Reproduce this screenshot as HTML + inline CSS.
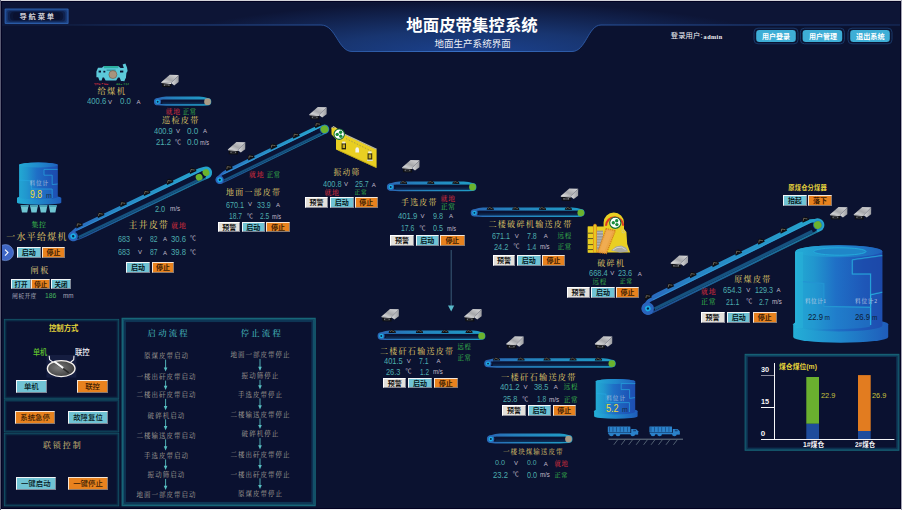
<!DOCTYPE html>
<html lang="zh-CN">
<head>
<meta charset="utf-8">
<title>地面皮带集控系统</title>
<style>
html,body{margin:0;padding:0;background:#0b1230;}
body{width:902px;height:510px;overflow:hidden;position:relative;}
#app{position:absolute;left:0;top:0;width:902px;height:510px;background:#0b1230;overflow:hidden;}
#gfx{position:absolute;left:0;top:0;width:902px;height:510px;}
.t{position:absolute;white-space:nowrap;line-height:1;transform-origin:0 50%;}
.s{font-family:"Liberation Sans","Noto Sans CJK SC",sans-serif;}
.k{font-family:"Liberation Serif","Noto Serif CJK SC",serif;}
.b{font-weight:bold;}
.m{font-weight:500;}
.clip{position:absolute;overflow:hidden;}
.btn{position:absolute;box-sizing:content-box;border:1px solid;text-align:center;white-space:nowrap;overflow:hidden;font-weight:bold;}
.btn.n{font-weight:500;}
.btn.c{background:#70c3d4;border-color:#f2f6f8 #7f8796 #7f8796 #f2f6f8;color:#06181c;}
.btn.o{background:#e8821e;border-color:#f6e6d6 #8a7a70 #8a7a70 #f6e6d6;color:#3c1c04;}
.btn.w{background:#e3e0db;border-color:#ffffff #8a8a96 #8a8a96 #ffffff;color:#101010;}
#frame-t{position:absolute;left:0;top:0;width:902px;height:1px;background:#d4d4da;}
#frame-b{position:absolute;left:0;top:509px;width:902px;height:1px;background:#f4f4f6;}
#frame-l{position:absolute;left:0;top:0;width:1px;height:510px;background:#5a5a72;}
#frame-r{position:absolute;left:901px;top:0;width:1px;height:510px;background:#a4a4b4;}
#frame-in{position:absolute;left:1px;top:1px;width:898px;height:506px;border:1px solid #020222;}
</style>
</head>
<body>
<div id="app">
<svg id="gfx" width="902" height="510" viewBox="0 0 902 510">
<defs>
<radialGradient id="hdrGlow" gradientUnits="userSpaceOnUse" cx="472" cy="54" r="1" gradientTransform="translate(472 54) scale(330 52) translate(-472 -54)">
<stop offset="0" stop-color="#1b4290"/><stop offset="0.45" stop-color="#183570"/><stop offset="1" stop-color="#0d1536"/></radialGradient>
<linearGradient id="hdrSide" x1="0" y1="0" x2="0" y2="1"><stop offset="0" stop-color="#0c1333"/><stop offset="1" stop-color="#14224c"/></linearGradient>
<linearGradient id="hdrLine" gradientUnits="userSpaceOnUse" x1="0" y1="0" x2="902" y2="0">
<stop offset="0" stop-color="#101d42"/><stop offset="0.08" stop-color="#13244c"/><stop offset="0.16" stop-color="#1c3c78"/><stop offset="0.36" stop-color="#274f96"/><stop offset="0.52" stop-color="#3a72c8"/><stop offset="0.68" stop-color="#274f96"/><stop offset="0.9" stop-color="#1c3c78"/><stop offset="1" stop-color="#172f62"/></linearGradient>
<linearGradient id="pnl" x1="0" y1="0" x2="0" y2="1"><stop offset="0" stop-color="#176a7c"/><stop offset="1" stop-color="#124c60"/></linearGradient>
</defs>
<g id="header"><path d="M0 0H902V25H601C588 25 586 51.5 572 51.5H352C338 51.5 336 25 321 25H0Z" fill="url(#hdrSide)"/>
<path d="M0 0H902V25H601C588 25 586 51.5 572 51.5H352C338 51.5 336 25 321 25H0Z" fill="url(#hdrGlow)"/>
<path d="M0 25H321C336 25 338 51.5 352 51.5H572C586 51.5 588 25 601 25H902" fill="none" stroke="url(#hdrLine)" stroke-width="1"/></g>
<g id="navbtn"><rect x="4.6" y="8.4" width="64" height="15.6" rx="1" fill="#2a5aa4"/><rect x="5.6" y="9.4" width="62" height="13.6" rx="1" fill="#1d4486"/><rect x="6.6" y="10.2" width="60" height="12" rx="2" fill="#16326a"/><rect x="8" y="11" width="57.2" height="10.4" rx="3" fill="#10224e"/><rect x="10" y="11.8" width="53.2" height="8.8" rx="4" fill="#0b1638"/><rect x="13" y="12.4" width="47.2" height="7.6" rx="3.6" fill="#0a1130"/></g>
<rect x="754" y="28.2" width="44" height="15.6" rx="4" fill="#0b1432" stroke="#1a3868" stroke-width="1"/>
<rect x="756.2" y="30" width="39.6" height="12" rx="3.2" fill="#3eaed6"/>
<rect x="800.4" y="28.2" width="44" height="15.6" rx="4" fill="#0b1432" stroke="#1a3868" stroke-width="1"/>
<rect x="802.6" y="30" width="39.6" height="12" rx="3.2" fill="#3eaed6"/>
<rect x="848" y="28.2" width="44" height="15.6" rx="4" fill="#0b1432" stroke="#1a3868" stroke-width="1"/>
<rect x="850.2" y="30" width="39.6" height="12" rx="3.2" fill="#3eaed6"/>
<rect x="4" y="319" width="115.1" height="80.1" fill="#0a1130"/><rect x="4.38" y="319.38" width="114.33" height="79.33" fill="none" stroke="#15586a" stroke-width="0.92"/><rect x="5.15" y="320.15" width="112.8" height="77.8" fill="none" stroke="#10435a" stroke-width="0.92"/><rect x="5.92" y="320.92" width="111.27" height="76.27" fill="none" stroke="#0c2c48" stroke-width="0.92"/>
<rect x="4" y="399.4" width="115.1" height="32.9" fill="#0a1130"/><rect x="4.38" y="399.78" width="114.33" height="32.13" fill="none" stroke="#15586a" stroke-width="0.92"/><rect x="5.15" y="400.55" width="112.8" height="30.6" fill="none" stroke="#10435a" stroke-width="0.92"/><rect x="5.92" y="401.32" width="111.27" height="29.07" fill="none" stroke="#0c2c48" stroke-width="0.92"/>
<rect x="4" y="432.9" width="115.1" height="73.3" fill="#0a1130"/><rect x="4.38" y="433.28" width="114.33" height="72.53" fill="none" stroke="#15586a" stroke-width="0.92"/><rect x="5.15" y="434.05" width="112.8" height="71" fill="none" stroke="#10435a" stroke-width="0.92"/><rect x="5.92" y="434.82" width="111.27" height="69.47" fill="none" stroke="#0c2c48" stroke-width="0.92"/>
<rect x="121.6" y="317.8" width="194.1" height="188.4" fill="#0a1130"/><rect x="122.3" y="318.5" width="192.7" height="187" fill="none" stroke="#176678" stroke-width="1.55"/><rect x="123.7" y="319.9" width="189.9" height="184.2" fill="none" stroke="#13506a" stroke-width="1.55"/><rect x="125.1" y="321.3" width="187.1" height="181.4" fill="none" stroke="#0e3454" stroke-width="1.55"/>
<rect x="744.7" y="353.9" width="154.6" height="96.8" fill="#0a1130"/><rect x="745.2" y="354.4" width="153.6" height="95.8" fill="none" stroke="#176678" stroke-width="1.15"/><rect x="746.2" y="355.4" width="151.6" height="93.8" fill="none" stroke="#13506a" stroke-width="1.15"/><rect x="747.2" y="356.4" width="149.6" height="91.8" fill="none" stroke="#0e3454" stroke-width="1.15"/>
<path d="M165.6 359.6V368.6" stroke="#58c0c2" stroke-width="0.9" fill="none"/><path d="M163.79999999999998 367.40000000000003L165.6 371.6L167.4 367.40000000000003Z" fill="#58c0c2"/>
<path d="M165.6 380.6V386.90000000000003" stroke="#58c0c2" stroke-width="0.9" fill="none"/><path d="M163.79999999999998 385.70000000000005L165.6 389.90000000000003L167.4 385.70000000000005Z" fill="#58c0c2"/>
<path d="M165.6 398.90000000000003V407.3" stroke="#58c0c2" stroke-width="0.9" fill="none"/><path d="M163.79999999999998 406.1L165.6 410.3L167.4 406.1Z" fill="#58c0c2"/>
<path d="M165.6 419.3V427.3" stroke="#58c0c2" stroke-width="0.9" fill="none"/><path d="M163.79999999999998 426.1L165.6 430.3L167.4 426.1Z" fill="#58c0c2"/>
<path d="M165.6 439.3V447.40000000000003" stroke="#58c0c2" stroke-width="0.9" fill="none"/><path d="M163.79999999999998 446.20000000000005L165.6 450.40000000000003L167.4 446.20000000000005Z" fill="#58c0c2"/>
<path d="M165.6 459.40000000000003V467.0" stroke="#58c0c2" stroke-width="0.9" fill="none"/><path d="M163.79999999999998 465.8L165.6 470.0L167.4 465.8Z" fill="#58c0c2"/>
<path d="M165.6 479.0V486.90000000000003" stroke="#58c0c2" stroke-width="0.9" fill="none"/><path d="M163.79999999999998 485.70000000000005L165.6 489.90000000000003L167.4 485.70000000000005Z" fill="#58c0c2"/>
<path d="M260 358.90000000000003V367.90000000000003" stroke="#58c0c2" stroke-width="0.9" fill="none"/><path d="M258.2 366.70000000000005L260 370.90000000000003L261.8 366.70000000000005Z" fill="#58c0c2"/>
<path d="M260 379.90000000000003V386.40000000000003" stroke="#58c0c2" stroke-width="0.9" fill="none"/><path d="M258.2 385.20000000000005L260 389.40000000000003L261.8 385.20000000000005Z" fill="#58c0c2"/>
<path d="M260 398.40000000000003V406.5" stroke="#58c0c2" stroke-width="0.9" fill="none"/><path d="M258.2 405.3L260 409.5L261.8 405.3Z" fill="#58c0c2"/>
<path d="M260 418.5V426.1" stroke="#58c0c2" stroke-width="0.9" fill="none"/><path d="M258.2 424.90000000000003L260 429.1L261.8 424.90000000000003Z" fill="#58c0c2"/>
<path d="M260 438.1V446.40000000000003" stroke="#58c0c2" stroke-width="0.9" fill="none"/><path d="M258.2 445.20000000000005L260 449.40000000000003L261.8 445.20000000000005Z" fill="#58c0c2"/>
<path d="M260 458.40000000000003V466.3" stroke="#58c0c2" stroke-width="0.9" fill="none"/><path d="M258.2 465.1L260 469.3L261.8 465.1Z" fill="#58c0c2"/>
<path d="M260 478.3V486.1" stroke="#58c0c2" stroke-width="0.9" fill="none"/><path d="M258.2 484.90000000000003L260 489.1L261.8 484.90000000000003Z" fill="#58c0c2"/>
<g id="knob"><rect x="46.4" y="355" width="30" height="22.6" fill="#151d40"/><path d="M49.2 355.8L49.6 359.8L53.6 362.6" stroke="#f4f4f4" stroke-width="1.1" fill="none"/><path d="M74 355.8L73.7 359.8L70.6 362.2" stroke="#f4f4f4" stroke-width="1.1" fill="none"/><radialGradient id="knobg" cx="0.4" cy="0.45" r="0.75"><stop offset="0" stop-color="#7c7c7c"/><stop offset="1" stop-color="#2e2e2e"/></radialGradient><ellipse cx="61.2" cy="368.6" rx="13.8" ry="8" fill="url(#knobg)" stroke="#f6f2ee" stroke-width="1.4"/><path d="M56.5 363.6L68.2 372.4" stroke="#2a2a2a" stroke-width="1.6" stroke-linecap="round"/><path d="M54.6 361.8L62.6 367.6" stroke="#fafafa" stroke-width="2" stroke-linecap="round"/></g>
<g id="navarrow"><circle cx="5.5" cy="252.6" r="8" fill="#3f66c4"/><circle cx="5.5" cy="252.6" r="8" fill="none" stroke="#7fa0e0" stroke-width="0.6"/><path d="M5 249.6L8 252.6L5 255.6" stroke="#ffffff" stroke-width="1.1" fill="none"/></g>
<path d="M451.2 250V306" stroke="#3f6480" stroke-width="0.9" fill="none"/><path d="M448 305.6H454.2L451.2 311.6Z" fill="#58b8c8"/>
<g transform="translate(157.67 101.7) rotate(0)">
<linearGradient id="bg1" gradientUnits="userSpaceOnUse" x1="0" y1="0" x2="49.87" y2="0"><stop offset="0" stop-color="#2a68b6"/><stop offset="0.3" stop-color="#2580bc"/><stop offset="1" stop-color="#209cc6"/></linearGradient>
<path d="M0 -3.67Q4.23 -5.3 8.46 -5.3L41.41 -5.3Q46.49 -5.3 49.87 -3.76A3.76 3.76 0 0 1 49.87 3.76Q45.64 4.1 41.41 4.1L8.46 4.1Q4.23 4.1 0 3.67A3.67 3.67 0 0 1 0 -3.67Z" fill="url(#bg1)"/>
<rect x="1" y="-2" width="48.27" height="4.4" rx="2.2" ry="2.2" fill="#0a1334"/>
<linearGradient id="bg2" x1="0" y1="0" x2="0" y2="1"><stop offset="0.35" stop-color="#0a1334"/><stop offset="1" stop-color="#0d3058"/></linearGradient>
<rect x="4.7" y="-2" width="42.35" height="4.4" fill="url(#bg2)"/>
<circle cx="0" cy="0" r="3.27" fill="#2a68b6"/>
<circle cx="0" cy="0" r="2.16" fill="#1aaee4"/>
<circle cx="0" cy="0" r="0.94" fill="#07254e"/>
<circle cx="49.87" cy="0" r="3.38" fill="#a99b86"/>
</g>
<g transform="translate(73.2 236.2) rotate(-25.59)">
<linearGradient id="bg3" gradientUnits="userSpaceOnUse" x1="0" y1="0" x2="147.24" y2="0"><stop offset="0" stop-color="#2a64bc"/><stop offset="0.3" stop-color="#2784c4"/><stop offset="1" stop-color="#25a4cc"/></linearGradient>
<path d="M0 -5.07Q5.85 -7.2 11.7 -7.2L135.54 -7.2Q142.56 -7.2 147.24 -6.17A6.17 6.17 0 0 1 147.24 6.17Q141.39 5.8 135.54 5.8L11.7 5.8Q5.85 5.8 0 5.07A5.07 5.07 0 0 1 0 -5.07Z" fill="url(#bg3)"/>
<rect x="1" y="-3.17" width="145.64" height="7.67" rx="3.83" ry="3.83" fill="#0a1334"/>
<rect x="4.55" y="2.03" width="136.84" height="2.47" fill="#16527f"/>
<rect x="1.3" y="4.5" width="143.34" height="1.3" fill="#0b1230" opacity="0.3"/>
<rect x="6.5" y="-4.17" width="136.84" height="0.8" fill="#3aa6e0" opacity="0.6"/>
<circle cx="0" cy="0" r="4.67" fill="#2a64bc"/>
<circle cx="0" cy="0" r="2.8" fill="#1aaee4"/>
<circle cx="0" cy="0" r="1.2" fill="#07254e"/>
<circle cx="139.04" cy="1.2" r="3.4" fill="#6bb32d"/>
<circle cx="147.24" cy="0" r="3.4" fill="#6bb32d"/>
<path d="M6.38 -5.62L6.98 -8.31L9.18 -10.59L11.58 -9.97L13.38 -7.9L13.58 -5.52Z" fill="#0d0e12"/>
<path d="M7.78 -7.28L9.28 -9.35L10.78 -8.21L12.28 -7.18" stroke="#6f675c" stroke-width="0.8" fill="none"/>
<path d="M30.22 -5.62L30.82 -8.31L33.02 -10.59L35.42 -9.97L37.22 -7.9L37.42 -5.52Z" fill="#0d0e12"/>
<path d="M31.62 -7.28L33.12 -9.35L34.62 -8.21L36.12 -7.18" stroke="#6f675c" stroke-width="0.8" fill="none"/>
<path d="M55.16 -5.62L55.76 -8.31L57.96 -10.59L60.36 -9.97L62.16 -7.9L62.36 -5.52Z" fill="#0d0e12"/>
<path d="M56.56 -7.28L58.06 -9.35L59.56 -8.21L61.06 -7.18" stroke="#6f675c" stroke-width="0.8" fill="none"/>
<path d="M81.22 -5.62L81.82 -8.31L84.02 -10.59L86.42 -9.97L88.22 -7.9L88.42 -5.52Z" fill="#0d0e12"/>
<path d="M82.62 -7.28L84.12 -9.35L85.62 -8.21L87.12 -7.18" stroke="#6f675c" stroke-width="0.8" fill="none"/>
<path d="M106.72 -5.62L107.32 -8.31L109.52 -10.59L111.92 -9.97L113.72 -7.9L113.92 -5.52Z" fill="#0d0e12"/>
<path d="M108.12 -7.28L109.62 -9.35L111.12 -8.21L112.62 -7.18" stroke="#6f675c" stroke-width="0.8" fill="none"/>
<path d="M132.22 -5.62L132.82 -8.31L135.02 -10.59L137.42 -9.97L139.22 -7.9L139.42 -5.52Z" fill="#0d0e12"/>
<path d="M133.62 -7.28L135.12 -9.35L136.62 -8.21L138.12 -7.18" stroke="#6f675c" stroke-width="0.8" fill="none"/>
</g>
<g transform="translate(219.8 179.8) rotate(-25.79)">
<linearGradient id="bg4" gradientUnits="userSpaceOnUse" x1="0" y1="0" x2="116.29" y2="0"><stop offset="0" stop-color="#2a64bc"/><stop offset="0.3" stop-color="#2784c4"/><stop offset="1" stop-color="#25a4cc"/></linearGradient>
<path d="M0 -4.29Q4.95 -6.5 9.9 -6.5L106.39 -6.5Q112.33 -6.5 116.29 -4.4A4.4 4.4 0 0 1 116.29 4.4Q111.34 4.5 106.39 4.5L9.9 4.5Q4.95 4.5 0 4.29A4.29 4.29 0 0 1 0 -4.29Z" fill="url(#bg4)"/>
<rect x="1" y="-3.09" width="114.69" height="6.49" rx="3.25" ry="3.25" fill="#0a1334"/>
<rect x="3.85" y="1.31" width="107.49" height="2.09" fill="#16527f"/>
<rect x="1.1" y="3.4" width="112.99" height="1.1" fill="#0b1230" opacity="0.3"/>
<rect x="5.5" y="-4.09" width="107.49" height="0.8" fill="#3aa6e0" opacity="0.6"/>
<circle cx="0" cy="0" r="3.89" fill="#2a64bc"/>
<circle cx="0" cy="0" r="2.53" fill="#1aaee4"/>
<circle cx="0" cy="0" r="1.1" fill="#07254e"/>
<circle cx="116.29" cy="0" r="4.8" fill="#1c6fc8" opacity="0.75"/>
<circle cx="116.29" cy="0" r="3.9" fill="#6bb32d"/>
<path d="M9.62 -4.92L10.22 -7.61L12.42 -9.89L14.82 -9.27L16.62 -7.2L16.82 -4.82Z" fill="#0d0e12"/>
<path d="M11.02 -6.58L12.52 -8.65L14.02 -7.51L15.52 -6.48" stroke="#6f675c" stroke-width="0.8" fill="none"/>
<path d="M34.05 -4.92L34.65 -7.61L36.85 -9.89L39.25 -9.27L41.05 -7.2L41.25 -4.82Z" fill="#0d0e12"/>
<path d="M35.45 -6.58L36.95 -8.65L38.45 -7.51L39.95 -6.48" stroke="#6f675c" stroke-width="0.8" fill="none"/>
<path d="M59.04 -4.92L59.64 -7.61L61.84 -9.89L64.24 -9.27L66.04 -7.2L66.24 -4.82Z" fill="#0d0e12"/>
<path d="M60.44 -6.58L61.94 -8.65L63.44 -7.51L64.94 -6.48" stroke="#6f675c" stroke-width="0.8" fill="none"/>
<path d="M84.03 -4.92L84.63 -7.61L86.83 -9.89L89.23 -9.27L91.03 -7.2L91.23 -4.82Z" fill="#0d0e12"/>
<path d="M85.43 -6.58L86.93 -8.65L88.43 -7.51L89.93 -6.48" stroke="#6f675c" stroke-width="0.8" fill="none"/>
<path d="M108.47 -4.92L109.07 -7.61L111.27 -9.89L113.67 -9.27L115.47 -7.2L115.67 -4.82Z" fill="#0d0e12"/>
<path d="M109.87 -6.58L111.37 -8.65L112.87 -7.51L114.37 -6.48" stroke="#6f675c" stroke-width="0.8" fill="none"/>
</g>
<g transform="translate(390.72 187) rotate(0)">
<linearGradient id="bg5" gradientUnits="userSpaceOnUse" x1="0" y1="0" x2="81.76" y2="0"><stop offset="0" stop-color="#2a68b6"/><stop offset="0.3" stop-color="#2580bc"/><stop offset="1" stop-color="#209cc6"/></linearGradient>
<path d="M0 -3.82Q4.41 -5.5 8.82 -5.5L72.94 -5.5Q78.23 -5.5 81.76 -3.92A3.92 3.92 0 0 1 81.76 3.92Q77.35 4.3 72.94 4.3L8.82 4.3Q4.41 4.3 0 3.82A3.82 3.82 0 0 1 0 -3.82Z" fill="url(#bg5)"/>
<rect x="1" y="-2.2" width="80.16" height="4.8" rx="2.4" ry="2.4" fill="#0a1334"/>
<linearGradient id="bg6" x1="0" y1="0" x2="0" y2="1"><stop offset="0.35" stop-color="#0a1334"/><stop offset="1" stop-color="#0d3058"/></linearGradient>
<rect x="4.9" y="-2.2" width="73.92" height="4.8" fill="url(#bg6)"/>
<circle cx="0" cy="0" r="3.42" fill="#2a68b6"/>
<circle cx="0" cy="0" r="2.25" fill="#1aaee4"/>
<circle cx="0" cy="0" r="0.98" fill="#07254e"/>
<circle cx="81.76" cy="0" r="3.4" fill="#6bb32d"/>
<path d="M9.18 -3.17L9.78 -4.86L11.98 -6.28L14.38 -5.9L16.18 -4.6L16.38 -3.11Z" fill="#0d0e12"/>
<path d="M10.58 -4.21L12.08 -5.51L13.58 -4.79L15.08 -4.15" stroke="#6f675c" stroke-width="0.8" fill="none"/>
<path d="M36.38 -3.17L36.98 -4.86L39.18 -6.28L41.58 -5.9L43.38 -4.6L43.58 -3.11Z" fill="#0d0e12"/>
<path d="M37.78 -4.21L39.28 -5.51L40.78 -4.79L42.28 -4.15" stroke="#6f675c" stroke-width="0.8" fill="none"/>
<path d="M61.48 -3.17L62.08 -4.86L64.28 -6.28L66.68 -5.9L68.48 -4.6L68.68 -3.11Z" fill="#0d0e12"/>
<path d="M62.88 -4.21L64.38 -5.51L65.88 -4.79L67.38 -4.15" stroke="#6f675c" stroke-width="0.8" fill="none"/>
</g>
<g transform="translate(474.4 212.85) rotate(0)">
<linearGradient id="bg7" gradientUnits="userSpaceOnUse" x1="0" y1="0" x2="106.4" y2="0"><stop offset="0" stop-color="#2a68b6"/><stop offset="0.3" stop-color="#2580bc"/><stop offset="1" stop-color="#209cc6"/></linearGradient>
<path d="M0 -3.71Q4.28 -5.35 8.55 -5.35L97.85 -5.35Q102.98 -5.35 106.4 -3.8A3.8 3.8 0 0 1 106.4 3.8Q102.12 4.15 97.85 4.15L8.55 4.15Q4.28 4.15 0 3.71A3.71 3.71 0 0 1 0 -3.71Z" fill="url(#bg7)"/>
<rect x="1" y="-2.05" width="104.8" height="4.5" rx="2.25" ry="2.25" fill="#0a1334"/>
<linearGradient id="bg8" x1="0" y1="0" x2="0" y2="1"><stop offset="0.35" stop-color="#0a1334"/><stop offset="1" stop-color="#0d3058"/></linearGradient>
<rect x="4.75" y="-2.05" width="98.8" height="4.5" fill="url(#bg8)"/>
<circle cx="0" cy="0" r="3.31" fill="#2a68b6"/>
<circle cx="0" cy="0" r="2.19" fill="#1aaee4"/>
<circle cx="0" cy="0" r="0.95" fill="#07254e"/>
<circle cx="106.4" cy="0" r="3.4" fill="#6bb32d"/>
<path d="M12.2 -3.02L12.8 -4.71L15 -6.13L17.4 -5.75L19.2 -4.45L19.4 -2.96Z" fill="#0d0e12"/>
<path d="M13.6 -4.06L15.1 -5.36L16.6 -4.64L18.1 -4" stroke="#6f675c" stroke-width="0.8" fill="none"/>
<path d="M37.7 -3.02L38.3 -4.71L40.5 -6.13L42.9 -5.75L44.7 -4.45L44.9 -2.96Z" fill="#0d0e12"/>
<path d="M39.1 -4.06L40.6 -5.36L42.1 -4.64L43.6 -4" stroke="#6f675c" stroke-width="0.8" fill="none"/>
<path d="M64.4 -3.02L65 -4.71L67.2 -6.13L69.59 -5.75L71.4 -4.45L71.59 -2.96Z" fill="#0d0e12"/>
<path d="M65.8 -4.06L67.3 -5.36L68.8 -4.64L70.3 -4" stroke="#6f675c" stroke-width="0.8" fill="none"/>
<path d="M90.29 -3.02L90.89 -4.71L93.09 -6.13L95.49 -5.75L97.29 -4.45L97.49 -2.96Z" fill="#0d0e12"/>
<path d="M91.69 -4.06L93.19 -5.36L94.69 -4.64L96.19 -4" stroke="#6f675c" stroke-width="0.8" fill="none"/>
</g>
<g transform="translate(647.9 308.5) rotate(-26.19)">
<linearGradient id="bg9" gradientUnits="userSpaceOnUse" x1="0" y1="0" x2="189.22" y2="0"><stop offset="0" stop-color="#2a64bc"/><stop offset="0.3" stop-color="#2784c4"/><stop offset="1" stop-color="#25a4cc"/></linearGradient>
<path d="M0 -6.47Q7.47 -10.1 14.94 -10.1L174.28 -10.1Q183.24 -10.1 189.22 -6.64A6.64 6.64 0 0 1 189.22 6.64Q181.75 6.5 174.28 6.5L14.94 6.5Q7.47 6.5 0 6.47A6.47 6.47 0 0 1 0 -6.47Z" fill="url(#bg9)"/>
<rect x="1" y="-4.95" width="187.62" height="9.79" rx="4.9" ry="4.9" fill="#0a1334"/>
<rect x="5.81" y="1.69" width="175.94" height="3.15" fill="#16527f"/>
<rect x="1.66" y="4.84" width="184.24" height="1.66" fill="#0b1230" opacity="0.3"/>
<rect x="8.3" y="-5.95" width="175.94" height="0.8" fill="#3aa6e0" opacity="0.6"/>
<circle cx="0" cy="0" r="6.07" fill="#2a64bc"/>
<circle cx="0" cy="0" r="2.8" fill="#1aaee4"/>
<circle cx="0" cy="0" r="1.2" fill="#07254e"/>
<circle cx="189.22" cy="0" r="4.8" fill="#1c6fc8" opacity="0.75"/>
<circle cx="189.22" cy="0" r="3.9" fill="#6bb32d"/>
<path d="M1.41 -8.52L2.01 -11.21L4.21 -13.49L6.61 -12.87L8.41 -10.8L8.61 -8.42Z" fill="#0d0e12"/>
<path d="M2.81 -10.18L4.31 -12.25L5.81 -11.11L7.31 -10.08" stroke="#6f675c" stroke-width="0.8" fill="none"/>
<path d="M26.27 -8.52L26.87 -11.21L29.07 -13.49L31.47 -12.87L33.27 -10.8L33.47 -8.42Z" fill="#0d0e12"/>
<path d="M27.67 -10.18L29.17 -12.25L30.67 -11.11L32.17 -10.08" stroke="#6f675c" stroke-width="0.8" fill="none"/>
<path d="M51.34 -8.52L51.94 -11.21L54.14 -13.49L56.54 -12.87L58.34 -10.8L58.54 -8.42Z" fill="#0d0e12"/>
<path d="M52.74 -10.18L54.24 -12.25L55.74 -11.11L57.24 -10.08" stroke="#6f675c" stroke-width="0.8" fill="none"/>
<path d="M76.41 -8.52L77.01 -11.21L79.21 -13.49L81.61 -12.87L83.41 -10.8L83.61 -8.42Z" fill="#0d0e12"/>
<path d="M77.81 -10.18L79.31 -12.25L80.81 -11.11L82.31 -10.08" stroke="#6f675c" stroke-width="0.8" fill="none"/>
<path d="M102.04 -8.52L102.64 -11.21L104.84 -13.49L107.24 -12.87L109.04 -10.8L109.24 -8.42Z" fill="#0d0e12"/>
<path d="M103.44 -10.18L104.94 -12.25L106.44 -11.11L107.94 -10.08" stroke="#6f675c" stroke-width="0.8" fill="none"/>
<path d="M127.23 -8.52L127.83 -11.21L130.03 -13.49L132.43 -12.87L134.23 -10.8L134.43 -8.42Z" fill="#0d0e12"/>
<path d="M128.63 -10.18L130.13 -12.25L131.63 -11.11L133.13 -10.08" stroke="#6f675c" stroke-width="0.8" fill="none"/>
<path d="M152.19 -8.52L152.79 -11.21L154.99 -13.49L157.39 -12.87L159.19 -10.8L159.39 -8.42Z" fill="#0d0e12"/>
<path d="M153.59 -10.18L155.09 -12.25L156.59 -11.11L158.09 -10.08" stroke="#6f675c" stroke-width="0.8" fill="none"/>
<path d="M176.71 -8.52L177.31 -11.21L179.51 -13.49L181.91 -12.87L183.71 -10.8L183.91 -8.42Z" fill="#0d0e12"/>
<path d="M178.11 -10.18L179.61 -12.25L181.11 -11.11L182.61 -10.08" stroke="#6f675c" stroke-width="0.8" fill="none"/>
</g>
<g transform="translate(381.3 335.95) rotate(0)">
<linearGradient id="bg10" gradientUnits="userSpaceOnUse" x1="0" y1="0" x2="100.3" y2="0"><stop offset="0" stop-color="#2a68b6"/><stop offset="0.3" stop-color="#2580bc"/><stop offset="1" stop-color="#209cc6"/></linearGradient>
<path d="M0 -3.71Q4.28 -5.35 8.55 -5.35L91.75 -5.35Q96.88 -5.35 100.3 -3.8A3.8 3.8 0 0 1 100.3 3.8Q96.02 4.15 91.75 4.15L8.55 4.15Q4.28 4.15 0 3.71A3.71 3.71 0 0 1 0 -3.71Z" fill="url(#bg10)"/>
<rect x="1" y="-2.05" width="98.7" height="4.5" rx="2.25" ry="2.25" fill="#0a1334"/>
<linearGradient id="bg11" x1="0" y1="0" x2="0" y2="1"><stop offset="0.35" stop-color="#0a1334"/><stop offset="1" stop-color="#0d3058"/></linearGradient>
<rect x="4.75" y="-2.05" width="92.7" height="4.5" fill="url(#bg11)"/>
<circle cx="0" cy="0" r="3.31" fill="#2a68b6"/>
<circle cx="0" cy="0" r="2.19" fill="#1aaee4"/>
<circle cx="0" cy="0" r="0.95" fill="#07254e"/>
<circle cx="100.3" cy="0" r="3.4" fill="#6bb32d"/>
<path d="M7.3 -3.02L7.9 -4.71L10.1 -6.13L12.5 -5.75L14.3 -4.45L14.5 -2.96Z" fill="#0d0e12"/>
<path d="M8.7 -4.06L10.2 -5.36L11.7 -4.64L13.2 -4" stroke="#6f675c" stroke-width="0.8" fill="none"/>
<path d="M34.5 -3.02L35.1 -4.71L37.3 -6.13L39.7 -5.75L41.5 -4.45L41.7 -2.96Z" fill="#0d0e12"/>
<path d="M35.9 -4.06L37.4 -5.36L38.9 -4.64L40.4 -4" stroke="#6f675c" stroke-width="0.8" fill="none"/>
<path d="M60.1 -3.02L60.7 -4.71L62.9 -6.13L65.3 -5.75L67.1 -4.45L67.3 -2.96Z" fill="#0d0e12"/>
<path d="M61.5 -4.06L63 -5.36L64.5 -4.64L66 -4" stroke="#6f675c" stroke-width="0.8" fill="none"/>
<path d="M84.1 -3.02L84.7 -4.71L86.9 -6.13L89.3 -5.75L91.1 -4.45L91.3 -2.96Z" fill="#0d0e12"/>
<path d="M85.5 -4.06L87 -5.36L88.5 -4.64L90 -4" stroke="#6f675c" stroke-width="0.8" fill="none"/>
</g>
<g transform="translate(488.04 363.6) rotate(0)">
<linearGradient id="bg12" gradientUnits="userSpaceOnUse" x1="0" y1="0" x2="123.82" y2="0"><stop offset="0" stop-color="#2a68b6"/><stop offset="0.3" stop-color="#2580bc"/><stop offset="1" stop-color="#209cc6"/></linearGradient>
<path d="M0 -3.74Q4.32 -5.4 8.64 -5.4L115.18 -5.4Q120.36 -5.4 123.82 -3.84A3.84 3.84 0 0 1 123.82 3.84Q119.5 4.2 115.18 4.2L8.64 4.2Q4.32 4.2 0 3.74A3.74 3.74 0 0 1 0 -3.74Z" fill="url(#bg12)"/>
<rect x="1" y="-2.1" width="122.22" height="4.6" rx="2.3" ry="2.3" fill="#0a1334"/>
<linearGradient id="bg13" x1="0" y1="0" x2="0" y2="1"><stop offset="0.35" stop-color="#0a1334"/><stop offset="1" stop-color="#0d3058"/></linearGradient>
<rect x="4.8" y="-2.1" width="116.14" height="4.6" fill="url(#bg13)"/>
<circle cx="0" cy="0" r="3.34" fill="#2a68b6"/>
<circle cx="0" cy="0" r="2.21" fill="#1aaee4"/>
<circle cx="0" cy="0" r="0.96" fill="#07254e"/>
<circle cx="123.82" cy="0" r="3.4" fill="#6bb32d"/>
<path d="M4.86 -3.07L5.46 -4.76L7.66 -6.18L10.06 -5.8L11.86 -4.5L12.06 -3.01Z" fill="#0d0e12"/>
<path d="M6.26 -4.11L7.76 -5.41L9.26 -4.69L10.76 -4.05" stroke="#6f675c" stroke-width="0.8" fill="none"/>
<path d="M29.36 -3.07L29.96 -4.76L32.16 -6.18L34.56 -5.8L36.36 -4.5L36.56 -3.01Z" fill="#0d0e12"/>
<path d="M30.76 -4.11L32.26 -5.41L33.76 -4.69L35.26 -4.05" stroke="#6f675c" stroke-width="0.8" fill="none"/>
<path d="M55.36 -3.07L55.96 -4.76L58.16 -6.18L60.56 -5.8L62.36 -4.5L62.56 -3.01Z" fill="#0d0e12"/>
<path d="M56.76 -4.11L58.26 -5.41L59.76 -4.69L61.26 -4.05" stroke="#6f675c" stroke-width="0.8" fill="none"/>
<path d="M81.36 -3.07L81.96 -4.76L84.16 -6.18L86.56 -5.8L88.36 -4.5L88.56 -3.01Z" fill="#0d0e12"/>
<path d="M82.76 -4.11L84.26 -5.41L85.76 -4.69L87.26 -4.05" stroke="#6f675c" stroke-width="0.8" fill="none"/>
<path d="M106.76 -3.07L107.36 -4.76L109.56 -6.18L111.96 -5.8L113.76 -4.5L113.96 -3.01Z" fill="#0d0e12"/>
<path d="M108.16 -4.11L109.66 -5.41L111.16 -4.69L112.66 -4.05" stroke="#6f675c" stroke-width="0.8" fill="none"/>
</g>
<g transform="translate(490.8 439.1) rotate(0)">
<linearGradient id="bg14" gradientUnits="userSpaceOnUse" x1="0" y1="0" x2="77.7" y2="0"><stop offset="0" stop-color="#2a68b6"/><stop offset="0.3" stop-color="#2580bc"/><stop offset="1" stop-color="#209cc6"/></linearGradient>
<path d="M0 -3.9Q4.5 -5.6 9 -5.6L68.7 -5.6Q74.1 -5.6 77.7 -4A4 4 0 0 1 77.7 4Q73.2 4.4 68.7 4.4L9 4.4Q4.5 4.4 0 3.9A3.9 3.9 0 0 1 0 -3.9Z" fill="url(#bg14)"/>
<rect x="1" y="-2.3" width="76.1" height="5" rx="2.5" ry="2.5" fill="#0a1334"/>
<linearGradient id="bg15" x1="0" y1="0" x2="0" y2="1"><stop offset="0.35" stop-color="#0a1334"/><stop offset="1" stop-color="#0d3058"/></linearGradient>
<rect x="5" y="-2.3" width="69.7" height="5" fill="url(#bg15)"/>
<circle cx="0" cy="0" r="3.5" fill="#2a68b6"/>
<circle cx="0" cy="0" r="2.3" fill="#1aaee4"/>
<circle cx="0" cy="0" r="1" fill="#07254e"/>
<circle cx="77.7" cy="0" r="3.4" fill="#a99b86"/>
</g>
<g transform="translate(161 74.8)">
<linearGradient id="cg16" x1="0" y1="1" x2="1" y2="0"><stop offset="0" stop-color="#f0f0f0"/><stop offset="0.45" stop-color="#a6a7aa"/><stop offset="1" stop-color="#dcdcde"/></linearGradient>
<linearGradient id="cg17" x1="0" y1="0" x2="1" y2="0"><stop offset="0" stop-color="#dadbdd"/><stop offset="1" stop-color="#9c9da1"/></linearGradient>
<path d="M0.8 7.4L10.2 8.2L10.4 12.5L1.4 12.2Z" fill="#0e0f13"/>
<path d="M2.8 9.5H8.6V11.2H2.8Z" fill="#73757c"/>
<path d="M4 9.9H7.4V10.9H4Z" fill="#16171b"/>
<path d="M8.8 0L17.7 0.3L10.2 8.3L0.2 7.5Z" fill="url(#cg16)"/>
<path d="M17.7 0.3L17.6 7.2L13.2 10.6L10.2 8.3Z" fill="url(#cg17)"/>
<path d="M0.2 7.5L10.2 8.3L10.2 9.1L0.5 8.3Z" fill="#f8f8f8"/>
</g>
<g transform="translate(227.6 142)">
<linearGradient id="cg18" x1="0" y1="1" x2="1" y2="0"><stop offset="0" stop-color="#f0f0f0"/><stop offset="0.45" stop-color="#a6a7aa"/><stop offset="1" stop-color="#dcdcde"/></linearGradient>
<linearGradient id="cg19" x1="0" y1="0" x2="1" y2="0"><stop offset="0" stop-color="#dadbdd"/><stop offset="1" stop-color="#9c9da1"/></linearGradient>
<path d="M0.8 7.4L10.2 8.2L10.4 12.5L1.4 12.2Z" fill="#0e0f13"/>
<path d="M2.8 9.5H8.6V11.2H2.8Z" fill="#73757c"/>
<path d="M4 9.9H7.4V10.9H4Z" fill="#16171b"/>
<path d="M8.8 0L17.7 0.3L10.2 8.3L0.2 7.5Z" fill="url(#cg18)"/>
<path d="M17.7 0.3L17.6 7.2L13.2 10.6L10.2 8.3Z" fill="url(#cg19)"/>
<path d="M0.2 7.5L10.2 8.3L10.2 9.1L0.5 8.3Z" fill="#f8f8f8"/>
</g>
<g transform="translate(309 107)">
<linearGradient id="cg20" x1="0" y1="1" x2="1" y2="0"><stop offset="0" stop-color="#f0f0f0"/><stop offset="0.45" stop-color="#a6a7aa"/><stop offset="1" stop-color="#dcdcde"/></linearGradient>
<linearGradient id="cg21" x1="0" y1="0" x2="1" y2="0"><stop offset="0" stop-color="#dadbdd"/><stop offset="1" stop-color="#9c9da1"/></linearGradient>
<path d="M0.8 7.4L10.2 8.2L10.4 12.5L1.4 12.2Z" fill="#0e0f13"/>
<path d="M2.8 9.5H8.6V11.2H2.8Z" fill="#73757c"/>
<path d="M4 9.9H7.4V10.9H4Z" fill="#16171b"/>
<path d="M8.8 0L17.7 0.3L10.2 8.3L0.2 7.5Z" fill="url(#cg20)"/>
<path d="M17.7 0.3L17.6 7.2L13.2 10.6L10.2 8.3Z" fill="url(#cg21)"/>
<path d="M0.2 7.5L10.2 8.3L10.2 9.1L0.5 8.3Z" fill="#f8f8f8"/>
</g>
<g transform="translate(401.8 160)">
<linearGradient id="cg22" x1="0" y1="1" x2="1" y2="0"><stop offset="0" stop-color="#f0f0f0"/><stop offset="0.45" stop-color="#a6a7aa"/><stop offset="1" stop-color="#dcdcde"/></linearGradient>
<linearGradient id="cg23" x1="0" y1="0" x2="1" y2="0"><stop offset="0" stop-color="#dadbdd"/><stop offset="1" stop-color="#9c9da1"/></linearGradient>
<path d="M0.8 7.4L10.2 8.2L10.4 12.5L1.4 12.2Z" fill="#0e0f13"/>
<path d="M2.8 9.5H8.6V11.2H2.8Z" fill="#73757c"/>
<path d="M4 9.9H7.4V10.9H4Z" fill="#16171b"/>
<path d="M8.8 0L17.7 0.3L10.2 8.3L0.2 7.5Z" fill="url(#cg22)"/>
<path d="M17.7 0.3L17.6 7.2L13.2 10.6L10.2 8.3Z" fill="url(#cg23)"/>
<path d="M0.2 7.5L10.2 8.3L10.2 9.1L0.5 8.3Z" fill="#f8f8f8"/>
</g>
<g transform="translate(560.5 188.5)">
<linearGradient id="cg24" x1="0" y1="1" x2="1" y2="0"><stop offset="0" stop-color="#f0f0f0"/><stop offset="0.45" stop-color="#a6a7aa"/><stop offset="1" stop-color="#dcdcde"/></linearGradient>
<linearGradient id="cg25" x1="0" y1="0" x2="1" y2="0"><stop offset="0" stop-color="#dadbdd"/><stop offset="1" stop-color="#9c9da1"/></linearGradient>
<path d="M0.8 7.4L10.2 8.2L10.4 12.5L1.4 12.2Z" fill="#0e0f13"/>
<path d="M2.8 9.5H8.6V11.2H2.8Z" fill="#73757c"/>
<path d="M4 9.9H7.4V10.9H4Z" fill="#16171b"/>
<path d="M8.8 0L17.7 0.3L10.2 8.3L0.2 7.5Z" fill="url(#cg24)"/>
<path d="M17.7 0.3L17.6 7.2L13.2 10.6L10.2 8.3Z" fill="url(#cg25)"/>
<path d="M0.2 7.5L10.2 8.3L10.2 9.1L0.5 8.3Z" fill="#f8f8f8"/>
</g>
<g transform="translate(464 309)">
<linearGradient id="cg26" x1="0" y1="1" x2="1" y2="0"><stop offset="0" stop-color="#f0f0f0"/><stop offset="0.45" stop-color="#a6a7aa"/><stop offset="1" stop-color="#dcdcde"/></linearGradient>
<linearGradient id="cg27" x1="0" y1="0" x2="1" y2="0"><stop offset="0" stop-color="#dadbdd"/><stop offset="1" stop-color="#9c9da1"/></linearGradient>
<path d="M0.8 7.4L10.2 8.2L10.4 12.5L1.4 12.2Z" fill="#0e0f13"/>
<path d="M2.8 9.5H8.6V11.2H2.8Z" fill="#73757c"/>
<path d="M4 9.9H7.4V10.9H4Z" fill="#16171b"/>
<path d="M8.8 0L17.7 0.3L10.2 8.3L0.2 7.5Z" fill="url(#cg26)"/>
<path d="M17.7 0.3L17.6 7.2L13.2 10.6L10.2 8.3Z" fill="url(#cg27)"/>
<path d="M0.2 7.5L10.2 8.3L10.2 9.1L0.5 8.3Z" fill="#f8f8f8"/>
</g>
<g transform="translate(381.2 309)">
<linearGradient id="cg28" x1="0" y1="1" x2="1" y2="0"><stop offset="0" stop-color="#f0f0f0"/><stop offset="0.45" stop-color="#a6a7aa"/><stop offset="1" stop-color="#dcdcde"/></linearGradient>
<linearGradient id="cg29" x1="0" y1="0" x2="1" y2="0"><stop offset="0" stop-color="#dadbdd"/><stop offset="1" stop-color="#9c9da1"/></linearGradient>
<path d="M0.8 7.4L10.2 8.2L10.4 12.5L1.4 12.2Z" fill="#0e0f13"/>
<path d="M2.8 9.5H8.6V11.2H2.8Z" fill="#73757c"/>
<path d="M4 9.9H7.4V10.9H4Z" fill="#16171b"/>
<path d="M8.8 0L17.7 0.3L10.2 8.3L0.2 7.5Z" fill="url(#cg28)"/>
<path d="M17.7 0.3L17.6 7.2L13.2 10.6L10.2 8.3Z" fill="url(#cg29)"/>
<path d="M0.2 7.5L10.2 8.3L10.2 9.1L0.5 8.3Z" fill="#f8f8f8"/>
</g>
<g transform="translate(506 336.2)">
<linearGradient id="cg30" x1="0" y1="1" x2="1" y2="0"><stop offset="0" stop-color="#f0f0f0"/><stop offset="0.45" stop-color="#a6a7aa"/><stop offset="1" stop-color="#dcdcde"/></linearGradient>
<linearGradient id="cg31" x1="0" y1="0" x2="1" y2="0"><stop offset="0" stop-color="#dadbdd"/><stop offset="1" stop-color="#9c9da1"/></linearGradient>
<path d="M0.8 7.4L10.2 8.2L10.4 12.5L1.4 12.2Z" fill="#0e0f13"/>
<path d="M2.8 9.5H8.6V11.2H2.8Z" fill="#73757c"/>
<path d="M4 9.9H7.4V10.9H4Z" fill="#16171b"/>
<path d="M8.8 0L17.7 0.3L10.2 8.3L0.2 7.5Z" fill="url(#cg30)"/>
<path d="M17.7 0.3L17.6 7.2L13.2 10.6L10.2 8.3Z" fill="url(#cg31)"/>
<path d="M0.2 7.5L10.2 8.3L10.2 9.1L0.5 8.3Z" fill="#f8f8f8"/>
</g>
<g transform="translate(594.6 336.2)">
<linearGradient id="cg32" x1="0" y1="1" x2="1" y2="0"><stop offset="0" stop-color="#f0f0f0"/><stop offset="0.45" stop-color="#a6a7aa"/><stop offset="1" stop-color="#dcdcde"/></linearGradient>
<linearGradient id="cg33" x1="0" y1="0" x2="1" y2="0"><stop offset="0" stop-color="#dadbdd"/><stop offset="1" stop-color="#9c9da1"/></linearGradient>
<path d="M0.8 7.4L10.2 8.2L10.4 12.5L1.4 12.2Z" fill="#0e0f13"/>
<path d="M2.8 9.5H8.6V11.2H2.8Z" fill="#73757c"/>
<path d="M4 9.9H7.4V10.9H4Z" fill="#16171b"/>
<path d="M8.8 0L17.7 0.3L10.2 8.3L0.2 7.5Z" fill="url(#cg32)"/>
<path d="M17.7 0.3L17.6 7.2L13.2 10.6L10.2 8.3Z" fill="url(#cg33)"/>
<path d="M0.2 7.5L10.2 8.3L10.2 9.1L0.5 8.3Z" fill="#f8f8f8"/>
</g>
<g transform="translate(829.7 207)">
<linearGradient id="cg34" x1="0" y1="1" x2="1" y2="0"><stop offset="0" stop-color="#f0f0f0"/><stop offset="0.45" stop-color="#a6a7aa"/><stop offset="1" stop-color="#dcdcde"/></linearGradient>
<linearGradient id="cg35" x1="0" y1="0" x2="1" y2="0"><stop offset="0" stop-color="#dadbdd"/><stop offset="1" stop-color="#9c9da1"/></linearGradient>
<path d="M0.8 7.4L10.2 8.2L10.4 12.5L1.4 12.2Z" fill="#0e0f13"/>
<path d="M2.8 9.5H8.6V11.2H2.8Z" fill="#73757c"/>
<path d="M4 9.9H7.4V10.9H4Z" fill="#16171b"/>
<path d="M8.8 0L17.7 0.3L10.2 8.3L0.2 7.5Z" fill="url(#cg34)"/>
<path d="M17.7 0.3L17.6 7.2L13.2 10.6L10.2 8.3Z" fill="url(#cg35)"/>
<path d="M0.2 7.5L10.2 8.3L10.2 9.1L0.5 8.3Z" fill="#f8f8f8"/>
</g>
<g transform="translate(853.5 207)">
<linearGradient id="cg36" x1="0" y1="1" x2="1" y2="0"><stop offset="0" stop-color="#f0f0f0"/><stop offset="0.45" stop-color="#a6a7aa"/><stop offset="1" stop-color="#dcdcde"/></linearGradient>
<linearGradient id="cg37" x1="0" y1="0" x2="1" y2="0"><stop offset="0" stop-color="#dadbdd"/><stop offset="1" stop-color="#9c9da1"/></linearGradient>
<path d="M0.8 7.4L10.2 8.2L10.4 12.5L1.4 12.2Z" fill="#0e0f13"/>
<path d="M2.8 9.5H8.6V11.2H2.8Z" fill="#73757c"/>
<path d="M4 9.9H7.4V10.9H4Z" fill="#16171b"/>
<path d="M8.8 0L17.7 0.3L10.2 8.3L0.2 7.5Z" fill="url(#cg36)"/>
<path d="M17.7 0.3L17.6 7.2L13.2 10.6L10.2 8.3Z" fill="url(#cg37)"/>
<path d="M0.2 7.5L10.2 8.3L10.2 9.1L0.5 8.3Z" fill="#f8f8f8"/>
</g>
<g transform="translate(670.4 255.4)">
<linearGradient id="cg38" x1="0" y1="1" x2="1" y2="0"><stop offset="0" stop-color="#f0f0f0"/><stop offset="0.45" stop-color="#a6a7aa"/><stop offset="1" stop-color="#dcdcde"/></linearGradient>
<linearGradient id="cg39" x1="0" y1="0" x2="1" y2="0"><stop offset="0" stop-color="#dadbdd"/><stop offset="1" stop-color="#9c9da1"/></linearGradient>
<path d="M0.8 7.4L10.2 8.2L10.4 12.5L1.4 12.2Z" fill="#0e0f13"/>
<path d="M2.8 9.5H8.6V11.2H2.8Z" fill="#73757c"/>
<path d="M4 9.9H7.4V10.9H4Z" fill="#16171b"/>
<path d="M8.8 0L17.7 0.3L10.2 8.3L0.2 7.5Z" fill="url(#cg38)"/>
<path d="M17.7 0.3L17.6 7.2L13.2 10.6L10.2 8.3Z" fill="url(#cg39)"/>
<path d="M0.2 7.5L10.2 8.3L10.2 9.1L0.5 8.3Z" fill="#f8f8f8"/>
</g>
<g id="feeder" transform="translate(96 63)">
<path d="M7.5 3.2H22.5L24.5 5H30V14.2L27.8 18H25L23.6 14.6H22L20.2 17.6H9.6L8 14.6H6.6L5.6 17.6H3.4L2.2 14.2H0.4V8.4L2 4.8H6Z" fill="#5cc9da"/>
<path d="M26.6 1.6L29.4 0.4L31 4.6L31.6 8L30.4 10L30 14L28.2 18.4L26.4 17.6L28 11.6V5.4Z" fill="#5cc9da"/>
<rect x="8" y="3" width="14.2" height="2.2" fill="#2cae9f"/>
<rect x="10.6" y="6.6" width="9" height="1.2" fill="#2a8f98"/>
<rect x="2.6" y="7.6" width="2.4" height="1.9" fill="#0b1230"/><rect x="7.4" y="7.8" width="1.9" height="1.7" fill="#0b1230"/><rect x="24" y="7.6" width="3.3" height="1.9" fill="#0b1230"/>
<circle cx="16.9" cy="11.6" r="4" fill="#a8947e" stroke="#6a4a3a" stroke-width="0.5"/>
</g>
<linearGradient id="kg40" gradientUnits="userSpaceOnUse" x1="17" y1="0" x2="61.3" y2="0"><stop offset="0" stop-color="#23aed4"/><stop offset="0.22" stop-color="#2196ce"/><stop offset="0.45" stop-color="#1f6fc6"/><stop offset="0.75" stop-color="#1e57b8"/><stop offset="1" stop-color="#1e4cae"/></linearGradient>
<linearGradient id="kg41" gradientUnits="userSpaceOnUse" x1="17" y1="0" x2="61.3" y2="0"><stop offset="0" stop-color="#24aed6"/><stop offset="0.5" stop-color="#2088cc"/><stop offset="1" stop-color="#1f5cba"/></linearGradient>
<path d="M17 198V202.4A22.15 2.4 0 0 0 61.3 202.4V198A22.15 2.4 0 0 0 17 198Z" fill="url(#kg41)"/>
<path d="M19.1 165V196.8A19.35 2.6 0 0 0 57.8 196.8V165A19.35 2.6 0 0 0 19.1 165Z" fill="url(#kg40)"/>
<ellipse cx="38.45" cy="165" rx="19.35" ry="2.6" fill="url(#kg41)"/>
<path d="M19.2 180.2L31.4 180.8V189H52.2V199.2A19.3 2.6 0 0 1 19.2 197Z" fill="#2396d2" opacity="0.22"/>
<path d="M44 169.4H57.8V184L52.2 184.6V175.2H44Z" fill="#1b46a6" opacity="0.35"/>
<g fill="none" stroke="#27a7df" stroke-width="0.7"><path d="M44 169.4H57.6"/><path d="M44 169.4V175.2H52.2V184.6L57.6 184"/><path d="M19.5 180.2L31.4 180.8V189H52.2V198"/></g>
<path d="M20.6 205.2H28.6L27.2 212.6H22Z" fill="#6fc5d2"/><path d="M20.6 205.2H28.6L28.2 207H21Z" fill="#4aa4b8"/>
<path d="M30 205.2H38L36.6 212.6H31.4Z" fill="#6fc5d2"/><path d="M30 205.2H38L37.6 207H30.4Z" fill="#4aa4b8"/>
<path d="M39.4 205.2H47.4L46 212.6H40.8Z" fill="#6fc5d2"/><path d="M39.4 205.2H47.4L47 207H39.8Z" fill="#4aa4b8"/>
<path d="M48.8 205.2H56.8L55.4 212.6H50.2Z" fill="#6fc5d2"/><path d="M48.8 205.2H56.8L56.4 207H49.2Z" fill="#4aa4b8"/>
<g id="screen">
<path d="M331.4 127.8L335.6 127.2L345 134.6L376.6 149.4V168L336 149.6V139L331.6 134.6Z" fill="#e9cf22"/>
<path d="M344.6 134.2L376.6 149.2" stroke="#b9b9a6" stroke-width="1.2" fill="none"/>
<path d="M331.4 128L334 126.4L335.8 128.6" stroke="#c9c9b6" stroke-width="0.9" fill="none"/>
<path d="M346 138.6L372 151.4" stroke="#8c8a60" stroke-width="0.7" stroke-dasharray="1.4 1.6" fill="none"/>
<path d="M338 150L376 167.4" stroke="#b89f14" stroke-width="0.8" fill="none"/>
<rect x="341.6" y="143.2" width="4.4" height="6.2" fill="#2a2410"/><rect x="342.2" y="141.6" width="3.2" height="1.8" fill="#f0f0e0"/><rect x="342.6" y="144.4" width="2.4" height="3.6" fill="#c8b020"/>
<rect x="367.6" y="153.2" width="4.6" height="6.6" fill="#2a2410"/><rect x="368.2" y="151.4" width="3.4" height="1.9" fill="#f0f0e0"/><rect x="368.6" y="154.4" width="2.6" height="4" fill="#c8b020"/><rect x="367" y="159.6" width="5.8" height="1.4" fill="#d8d8c8"/>
<path d="M355.4 152.6V149.4Q355.4 147.2 357.2 147.2Q359 147.2 359 149.4V152.6Z" fill="#f4f4ec"/>
<circle cx="339.2" cy="134.2" r="5.2" fill="#ffffff" stroke="#176e32" stroke-width="1.1"/>
<circle cx="337.2" cy="134.4" r="1.7" fill="#188c3c"/><circle cx="340.6" cy="132.3" r="1.7" fill="#188c3c"/><circle cx="340.8" cy="136.2" r="1.7" fill="#188c3c"/>
</g>
<g id="crusher">
<path d="M603.6 226.6V222.6A10.2 10.2 0 0 1 624 222.6V229L626.4 232L627.2 244L630.2 252.6H587.8V226.6Z" fill="#e9cf22"/>
<path d="M606 225.8A8.6 8.6 0 0 1 623.2 225.8" stroke="#de3a22" stroke-width="2.1" fill="none"/>
<rect x="587.8" y="226.6" width="5.4" height="26" fill="#e9cf22"/>
<path d="M587.8 233.2H593.2M587.8 238.6H593.2M587.8 244.6H593.2M587.8 249.6H593.2" stroke="#3a3420" stroke-width="0.8"/>
<rect x="596.6" y="230.6" width="6.4" height="19" fill="#9a9a98"/>
<path d="M596.6 232.6H603M596.6 235.4H603M596.6 238.2H603M596.6 241H603M596.6 243.8H603M596.6 246.6H603" stroke="#c8c8c8" stroke-width="0.7"/>
<path d="M593.6 252.6V225.6A1.4 1.4 0 0 1 596.4 225.6V252.6" stroke="#e08a1c" stroke-width="0.9" fill="#e9cf22"/>
<path d="M606 228.6L615.4 230.6L606.4 253.6L597.6 252.4Z" fill="#eca646" stroke="#d27a14" stroke-width="1.1" stroke-dasharray="1.2 0.9"/>
<path d="M606.8 230.6L612.4 231.8L604.6 250.8L600.2 250.2Z" fill="#f0ac52"/>
<path d="M611 250.4L616 246.6L621 245.4L626 247.6L628.4 251.4L620 252.6Z" fill="#a8a8a0"/>
<path d="M613 250L617 247.6L621.6 247.2L625.6 249.6" stroke="#e6e6dc" stroke-width="0.7" fill="none"/>
<circle cx="623.4" cy="231.4" r="1.5" fill="#e9cf22" stroke="#c8c8b0" stroke-width="0.6"/>
<circle cx="615.3" cy="222.8" r="5.6" fill="#ffffff" stroke="#176e32" stroke-width="1.1"/>
<circle cx="613.3" cy="222.8" r="1.7" fill="#188c3c"/><circle cx="616.7" cy="220.7" r="1.7" fill="#188c3c"/><circle cx="616.9" cy="224.6" r="1.7" fill="#188c3c"/>
</g>
<linearGradient id="kg43" gradientUnits="userSpaceOnUse" x1="793.2" y1="0" x2="888.2" y2="0"><stop offset="0" stop-color="#23aed4"/><stop offset="0.22" stop-color="#2196ce"/><stop offset="0.45" stop-color="#1f6fc6"/><stop offset="0.75" stop-color="#1e57b8"/><stop offset="1" stop-color="#1e4cae"/></linearGradient>
<linearGradient id="kg44" gradientUnits="userSpaceOnUse" x1="793.2" y1="0" x2="888.2" y2="0"><stop offset="0" stop-color="#24aed6"/><stop offset="0.5" stop-color="#2088cc"/><stop offset="1" stop-color="#1f5cba"/></linearGradient>
<path d="M793.2 324.2V337A47.5 5.8 0 0 0 888.2 337V324.2A47.5 5.8 0 0 0 793.2 324.2Z" fill="url(#kg44)"/>
<path d="M795.4 251.2V325.4A43.5 6 0 0 0 882.4 325.4V251.2A43.5 6 0 0 0 795.4 251.2Z" fill="url(#kg43)"/>
<ellipse cx="838.9" cy="251.2" rx="43.5" ry="6" fill="url(#kg44)"/>
<ellipse cx="839.9" cy="251.5" rx="26.1" ry="3.72" fill="#1f86c8" stroke="#25b3de" stroke-width="0.8"/>
<g fill="none" stroke="#28b2e2" stroke-width="1.3"><path d="M852.4 259.8L882.2 255.6"/><path d="M852.4 259.8V273.8H870.6V294.6L882.2 292.2"/><path d="M870.6 294.6V325"/><path d="M802.6 281.6L823.8 283.6V306.4L870.4 307.4" stroke="#2494d2"/><path d="M795.8 252V325" stroke="#2cb4dc" stroke-width="1.4"/></g>
<path d="M796 281.4L823.4 283.8V306.6H870.4V326.4A43.5 6 0 0 1 796 326.4Z" fill="#25a0d8" opacity="0.3"/>
<path d="M852.4 259.8L882.2 255.6V292.2L870.6 294.6V273.8H852.4Z" fill="#1a3f9e" opacity="0.4"/>
<rect x="795.6" y="252" width="7.4" height="76" fill="#27b4da" opacity="0.5"/>
<linearGradient id="kg46" gradientUnits="userSpaceOnUse" x1="594.1" y1="0" x2="637.6" y2="0"><stop offset="0" stop-color="#23aed4"/><stop offset="0.22" stop-color="#2196ce"/><stop offset="0.45" stop-color="#1f6fc6"/><stop offset="0.75" stop-color="#1e57b8"/><stop offset="1" stop-color="#1e4cae"/></linearGradient>
<linearGradient id="kg47" gradientUnits="userSpaceOnUse" x1="594.1" y1="0" x2="637.6" y2="0"><stop offset="0" stop-color="#24aed6"/><stop offset="0.5" stop-color="#2088cc"/><stop offset="1" stop-color="#1f5cba"/></linearGradient>
<path d="M594.1 411.2V416.2A21.75 2.6 0 0 0 637.6 416.2V411.2A21.75 2.6 0 0 0 594.1 411.2Z" fill="url(#kg47)"/>
<path d="M595.7 381.5V411.8A19.75 2.6 0 0 0 635.2 411.8V381.5A19.75 2.6 0 0 0 595.7 381.5Z" fill="url(#kg46)"/>
<ellipse cx="615.45" cy="381.5" rx="19.75" ry="2.6" fill="url(#kg47)"/>
<g fill="none" stroke="#27a7df" stroke-width="0.7"><path d="M621.2 383.6H635V382.8"/><path d="M621.2 383.6V389.6H629.6V398.4L635 397.6"/><path d="M596.2 393.4L606 394.2V402.6H629.4V412"/></g>
<g transform="translate(607.8 426.4)" fill="#2b82ca"><rect x="0" y="0" width="22.6" height="6" rx="0.4"/><rect x="1.2" y="0.7" width="0.7" height="4.6" fill="#15467e"/><rect x="4.8" y="0.7" width="0.7" height="4.6" fill="#15467e"/><rect x="8.4" y="0.7" width="0.7" height="4.6" fill="#15467e"/><rect x="12" y="0.7" width="0.7" height="4.6" fill="#15467e"/><rect x="15.6" y="0.7" width="0.7" height="4.6" fill="#15467e"/><rect x="19.2" y="0.7" width="0.7" height="4.6" fill="#15467e"/><path d="M23.4 2.6H28.2L30.4 4.8V8H23.4Z"/><rect x="25.4" y="3.3" width="2.8" height="1.6" fill="#15467e"/><rect x="0.4" y="6.4" width="29.8" height="1.5"/><ellipse cx="3.6" cy="8.2" rx="2.3" ry="1.7"/><ellipse cx="10.2" cy="8.2" rx="2.3" ry="1.7"/><ellipse cx="25" cy="8.2" rx="2.3" ry="1.7"/></g>
<g transform="translate(649.4 426.4)" fill="#2b82ca"><rect x="0" y="0" width="22.6" height="6" rx="0.4"/><rect x="1.2" y="0.7" width="0.7" height="4.6" fill="#15467e"/><rect x="4.8" y="0.7" width="0.7" height="4.6" fill="#15467e"/><rect x="8.4" y="0.7" width="0.7" height="4.6" fill="#15467e"/><rect x="12" y="0.7" width="0.7" height="4.6" fill="#15467e"/><rect x="15.6" y="0.7" width="0.7" height="4.6" fill="#15467e"/><rect x="19.2" y="0.7" width="0.7" height="4.6" fill="#15467e"/><path d="M23.4 2.6H28.2L30.4 4.8V8H23.4Z"/><rect x="25.4" y="3.3" width="2.8" height="1.6" fill="#15467e"/><rect x="0.4" y="6.4" width="29.8" height="1.5"/><ellipse cx="3.6" cy="8.2" rx="2.3" ry="1.7"/><ellipse cx="10.2" cy="8.2" rx="2.3" ry="1.7"/><ellipse cx="25" cy="8.2" rx="2.3" ry="1.7"/></g>
<path d="M608.5 439.2H683" stroke="#8a9aa2" stroke-width="0.8"/>
<path d="M617.6 439.8L613.8 444.8M625.05 439.8L621.25 444.8M632.5 439.8L628.7 444.8M639.95 439.8L636.15 444.8M647.4 439.8L643.6 444.8M654.85 439.8L651.05 444.8M662.3 439.8L658.5 444.8M669.75 439.8L665.95 444.8M677.2 439.8L673.4 444.8" stroke="#6f7f8c" stroke-width="0.7"/>
<g id="chart"><rect x="774" y="363" width="1" height="77" fill="#f6f6f8"/><rect x="761" y="439" width="133.4" height="1" fill="#f6f6f8"/><rect x="761" y="375" width="13" height="1" fill="#8a8a9c"/><rect x="761" y="407" width="13" height="1" fill="#f6f6f8"/><rect x="806.3" y="377" width="12.7" height="46.8" fill="#6ab02f"/><rect x="806.3" y="423.8" width="12.7" height="15.2" fill="#1f4c9c"/><rect x="858" y="375.1" width="12.7" height="55.9" fill="#e27c20"/><rect x="858" y="431" width="12.7" height="8" fill="#1f4c9c"/></g>
</svg>
<div class="t s b" style="left:406.3px;top:16.7px;font-size:16.4px;color:#ffffff;letter-spacing:0.04px;">地面皮带集控系统</div>
<div class="t s" style="left:434.5px;top:38.85px;font-size:9.5px;color:#eef0f8;letter-spacing:0.03px;">地面生产系统界面</div>
<div class="t s b" style="left:19.5px;top:13.25px;font-size:7.3px;color:#cdcdd6;letter-spacing:1.77px;">导航菜单</div>
<div class="t s" style="left:670.8px;top:32.35px;font-size:7.3px;color:#f4f4f8;letter-spacing:0.1px;">登录用户:</div>
<div class="t k b" style="left:703.6px;top:34px;font-size:6.2px;color:#f0f0f4;letter-spacing:0.44px;">admin</div>
<div class="t s b" style="left:761.5px;top:32.8px;font-size:7.2px;color:#ffffff;transform:scaleX(0.973);">用户登录</div>
<div class="t s b" style="left:808.5px;top:32.8px;font-size:7.2px;color:#ffffff;transform:scaleX(0.973);">用户管理</div>
<div class="t s b" style="left:856.2px;top:32.8px;font-size:7.2px;color:#ffffff;transform:scaleX(0.994);">退出系统</div>
<div class="t k m" style="left:97.4px;top:87.96px;font-size:8.28px;color:#d2bd63;letter-spacing:1.39px;">给煤机</div>
<div class="t s" style="left:87px;top:96.2px;font-size:9.8px;color:#4cacae;transform:scaleX(0.791);">400.6</div>
<div class="t s" style="left:108px;top:98.9px;font-size:6px;color:#c2bccc;">V</div>
<div class="t s" style="left:120px;top:96.2px;font-size:9.8px;color:#4cacae;transform:scaleX(0.807);">0.0</div>
<div class="t s" style="left:136.5px;top:98.9px;font-size:6px;color:#c2bccc;">A</div>
<div class="t k m" style="left:165.7px;top:108.91px;font-size:6.77px;color:#cc2c3c;letter-spacing:0.77px;">就地</div>
<div class="t k m" style="left:182.7px;top:109.15px;font-size:6.3px;color:#36b14a;letter-spacing:0.71px;">正常</div>
<div class="t k m" style="left:162px;top:116.64px;font-size:8.12px;color:#d2bd63;letter-spacing:1.32px;">巡检皮带</div>
<div class="t s" style="left:153.7px;top:126px;font-size:9.8px;color:#4cacae;transform:scaleX(0.766);">400.9</div>
<div class="t s" style="left:176px;top:127.8px;font-size:6px;color:#c2bccc;">V</div>
<div class="t s" style="left:187px;top:126px;font-size:9.8px;color:#4cacae;transform:scaleX(0.837);">0.0</div>
<div class="t s" style="left:203px;top:127.8px;font-size:6px;color:#c2bccc;">A</div>
<div class="t s" style="left:155.7px;top:137.3px;font-size:9.8px;color:#4cacae;transform:scaleX(0.791);">21.2</div>
<div class="t s" style="left:175px;top:138.8px;font-size:6px;color:#c2bccc;">℃</div>
<div class="t s" style="left:187px;top:137.3px;font-size:9.8px;color:#4cacae;transform:scaleX(0.837);">0.0</div>
<div class="t s" style="left:200px;top:139.65px;font-size:6.5px;color:#c2bccc;transform:scaleX(0.858);">m/s</div>
<div class="t s" style="left:155px;top:203.9px;font-size:9.8px;color:#4cacae;transform:scaleX(0.749);">2.0</div>
<div class="t s" style="left:170px;top:206.25px;font-size:6.5px;color:#c2bccc;transform:scaleX(0.954);">m/s</div>
<div class="t k m" style="left:128.6px;top:221.43px;font-size:8.74px;color:#d2bd63;letter-spacing:1.42px;">主井皮带</div>
<div class="t k m" style="left:171.3px;top:223.16px;font-size:6.87px;color:#cc2c3c;letter-spacing:0.78px;">就地</div>
<div class="t s" style="left:118px;top:234px;font-size:9.8px;color:#4cacae;transform:scaleX(0.734);">683</div>
<div class="t s" style="left:138px;top:235.8px;font-size:6px;color:#c2bccc;">V</div>
<div class="t s" style="left:150px;top:234px;font-size:9.8px;color:#4cacae;transform:scaleX(0.688);">82</div>
<div class="t s" style="left:163px;top:236.2px;font-size:6px;color:#c2bccc;">A</div>
<div class="t s" style="left:171.3px;top:234px;font-size:9.8px;color:#4cacae;transform:scaleX(0.786);">30.6</div>
<div class="t s" style="left:190px;top:235.4px;font-size:6px;color:#c2bccc;">℃</div>
<div class="t s" style="left:118px;top:247.3px;font-size:9.8px;color:#4cacae;transform:scaleX(0.734);">683</div>
<div class="t s" style="left:138px;top:249.1px;font-size:6px;color:#c2bccc;">V</div>
<div class="t s" style="left:150px;top:247.3px;font-size:9.8px;color:#4cacae;transform:scaleX(0.688);">87</div>
<div class="t s" style="left:163px;top:249.5px;font-size:6px;color:#c2bccc;">A</div>
<div class="t s" style="left:171.3px;top:247.3px;font-size:9.8px;color:#4cacae;transform:scaleX(0.786);">39.8</div>
<div class="t s" style="left:190px;top:248.7px;font-size:6px;color:#c2bccc;">℃</div>
<div class="t k" style="left:29.5px;top:180.5px;font-size:5.6px;color:#b9c6dc;letter-spacing:0.85px;">料位计</div>
<div class="t s" style="left:30px;top:189.6px;font-size:10.4px;color:#f0dc3c;transform:scaleX(0.844);">9.8</div>
<div class="t s" style="left:46px;top:192.3px;font-size:7px;color:#1a2c4a;">m</div>
<div class="t k m" style="left:31.4px;top:222.44px;font-size:6.92px;color:#36b14a;letter-spacing:0.77px;">集控</div>
<div class="t k m" style="left:6.3px;top:233.46px;font-size:8.88px;color:#d2bd63;letter-spacing:1.39px;">一水平给煤机</div>
<div class="t k m" style="left:30.6px;top:266.57px;font-size:8.06px;color:#cdbb78;letter-spacing:1.51px;">闸板</div>
<div class="t k" style="left:12px;top:293.8px;font-size:5.8px;color:#b8b8c4;letter-spacing:0.4px;">闸板开度</div>
<div class="t s" style="left:44.5px;top:292.25px;font-size:7.5px;color:#45b35e;transform:scaleX(0.903);">186</div>
<div class="t s" style="left:62.8px;top:293.15px;font-size:6.5px;color:#a8a8b8;transform:scaleX(0.968);">mm</div>
<div class="t k m" style="left:249.1px;top:172.14px;font-size:6.92px;color:#cc2c3c;letter-spacing:0.77px;">就地</div>
<div class="t k m" style="left:266.7px;top:172.45px;font-size:6.3px;color:#36b14a;letter-spacing:0.71px;">正常</div>
<div class="t k m" style="left:226px;top:189.22px;font-size:7.96px;color:#d2bd63;letter-spacing:1.25px;">地面一部皮带</div>
<div class="t s" style="left:225.5px;top:199.6px;font-size:9.8px;color:#4cacae;transform:scaleX(0.738);">670.1</div>
<div class="t s" style="left:248px;top:201.4px;font-size:6px;color:#c2bccc;">V</div>
<div class="t s" style="left:257.4px;top:199.6px;font-size:9.8px;color:#4cacae;transform:scaleX(0.723);">33.9</div>
<div class="t s" style="left:276px;top:201.8px;font-size:6px;color:#c2bccc;">A</div>
<div class="t s" style="left:228.5px;top:211.4px;font-size:9.8px;color:#4cacae;transform:scaleX(0.687);">18.7</div>
<div class="t s" style="left:247px;top:212.8px;font-size:6px;color:#c2bccc;">℃</div>
<div class="t s" style="left:260px;top:211.4px;font-size:9.8px;color:#4cacae;transform:scaleX(0.675);">2.5</div>
<div class="t s" style="left:272px;top:213.75px;font-size:6.5px;color:#c2bccc;transform:scaleX(0.858);">m/s</div>
<div class="t k m" style="left:333.5px;top:168.56px;font-size:7.68px;color:#d2bd63;letter-spacing:1.29px;">振动筛</div>
<div class="t s" style="left:323.4px;top:179.3px;font-size:9.8px;color:#4cacae;transform:scaleX(0.758);">400.8</div>
<div class="t s" style="left:344px;top:181.1px;font-size:6px;color:#c2bccc;">V</div>
<div class="t s" style="left:355.3px;top:179.3px;font-size:9.8px;color:#4cacae;transform:scaleX(0.723);">25.7</div>
<div class="t s" style="left:371.7px;top:181.5px;font-size:6px;color:#c2bccc;">A</div>
<div class="t k m" style="left:324.4px;top:189.64px;font-size:6.92px;color:#cc2c3c;letter-spacing:0.77px;">就地</div>
<div class="t k m" style="left:354.6px;top:190.26px;font-size:5.68px;color:#36b14a;letter-spacing:0.64px;">正常</div>
<div class="t k m" style="left:401px;top:198.55px;font-size:7.9px;color:#d2bd63;letter-spacing:1.27px;">手选皮带</div>
<div class="t k m" style="left:440.7px;top:195.52px;font-size:6.77px;color:#cc2c3c;letter-spacing:0.77px;">就地</div>
<div class="t k m" style="left:440.7px;top:204.31px;font-size:6.77px;color:#36b14a;letter-spacing:0.77px;">正常</div>
<div class="t s" style="left:397.5px;top:210.9px;font-size:9.8px;color:#4cacae;transform:scaleX(0.791);">401.9</div>
<div class="t s" style="left:420.6px;top:212.7px;font-size:6px;color:#c2bccc;">V</div>
<div class="t s" style="left:433.2px;top:210.9px;font-size:9.8px;color:#4cacae;transform:scaleX(0.734);">9.8</div>
<div class="t s" style="left:449px;top:213.1px;font-size:6px;color:#c2bccc;">A</div>
<div class="t s" style="left:401px;top:223.2px;font-size:9.8px;color:#4cacae;transform:scaleX(0.697);">17.6</div>
<div class="t s" style="left:419.4px;top:224.6px;font-size:6px;color:#c2bccc;">℃</div>
<div class="t s" style="left:433.2px;top:223.2px;font-size:9.8px;color:#4cacae;transform:scaleX(0.734);">0.5</div>
<div class="t s" style="left:447px;top:225.55px;font-size:6.5px;color:#c2bccc;transform:scaleX(0.858);">m/s</div>
<div class="t k m" style="left:488.4px;top:220.95px;font-size:8.1px;color:#d2bd63;letter-spacing:1.26px;">二楼破碎机输送皮带</div>
<div class="t s" style="left:492.2px;top:231px;font-size:9.8px;color:#4cacae;transform:scaleX(0.738);">671.1</div>
<div class="t s" style="left:514.8px;top:232.8px;font-size:6px;color:#c2bccc;">V</div>
<div class="t s" style="left:526.8px;top:231px;font-size:9.8px;color:#4cacae;transform:scaleX(0.719);">7.8</div>
<div class="t s" style="left:543.7px;top:233.2px;font-size:6px;color:#c2bccc;">A</div>
<div class="t k m" style="left:557.5px;top:233.33px;font-size:6.54px;color:#36b14a;letter-spacing:0.74px;">远程</div>
<div class="t s" style="left:494.2px;top:242px;font-size:9.8px;color:#4cacae;transform:scaleX(0.750);">24.2</div>
<div class="t s" style="left:513.5px;top:243.4px;font-size:6px;color:#c2bccc;">℃</div>
<div class="t s" style="left:527.3px;top:242px;font-size:9.8px;color:#4cacae;transform:scaleX(0.683);">1.4</div>
<div class="t s" style="left:540px;top:244.35px;font-size:6.5px;color:#c2bccc;transform:scaleX(0.916);">m/s</div>
<div class="t k m" style="left:557.5px;top:244.33px;font-size:6.54px;color:#36b14a;letter-spacing:0.74px;">正常</div>
<div class="t k m" style="left:597.2px;top:259.88px;font-size:8.04px;color:#d2bd63;letter-spacing:1.35px;">破碎机</div>
<div class="t s" style="left:588.9px;top:268.3px;font-size:9.8px;color:#4cacae;transform:scaleX(0.766);">668.4</div>
<div class="t s" style="left:610.2px;top:270.1px;font-size:6px;color:#c2bccc;">V</div>
<div class="t s" style="left:618.2px;top:268.3px;font-size:9.8px;color:#4cacae;transform:scaleX(0.739);">23.6</div>
<div class="t s" style="left:637.8px;top:270.5px;font-size:6px;color:#c2bccc;">A</div>
<div class="t k m" style="left:592.6px;top:278.73px;font-size:6.54px;color:#36b14a;letter-spacing:0.74px;">远程</div>
<div class="t k m" style="left:619.8px;top:279.04px;font-size:5.92px;color:#36b14a;letter-spacing:0.67px;">正常</div>
<div class="t k m" style="left:734.3px;top:275.9px;font-size:8.01px;color:#d2bd63;letter-spacing:1.3px;">原煤皮带</div>
<div class="t k m" style="left:701.1px;top:288.84px;font-size:6.92px;color:#cc2c3c;letter-spacing:0.77px;">就地</div>
<div class="t k m" style="left:701.1px;top:298.64px;font-size:6.92px;color:#36b14a;letter-spacing:0.77px;">正常</div>
<div class="t s" style="left:723.2px;top:284.7px;font-size:9.8px;color:#4cacae;transform:scaleX(0.758);">654.3</div>
<div class="t s" style="left:746.3px;top:286.5px;font-size:6px;color:#c2bccc;">V</div>
<div class="t s" style="left:755.1px;top:284.7px;font-size:9.8px;color:#4cacae;transform:scaleX(0.738);">129.3</div>
<div class="t s" style="left:776.5px;top:286.9px;font-size:6px;color:#c2bccc;">A</div>
<div class="t s" style="left:725.5px;top:296.5px;font-size:9.8px;color:#4cacae;transform:scaleX(0.697);">21.1</div>
<div class="t s" style="left:746.3px;top:297.9px;font-size:6px;color:#c2bccc;">℃</div>
<div class="t s" style="left:758.9px;top:296.5px;font-size:9.8px;color:#4cacae;transform:scaleX(0.697);">2.7</div>
<div class="t s" style="left:772.2px;top:298.85px;font-size:6.5px;color:#c2bccc;transform:scaleX(0.935);">m/s</div>
<div class="t s b" style="left:788.3px;top:184.55px;font-size:6.3px;color:#e6d23c;letter-spacing:0.12px;">原煤仓分煤器</div>
<div class="t k" style="left:805px;top:298.7px;font-size:5.6px;color:#c4d0e6;letter-spacing:0.47px;">料位计1</div>
<div class="t k" style="left:855px;top:298.7px;font-size:5.6px;color:#c4d0e6;letter-spacing:0.8px;">料位计2</div>
<div class="t s" style="left:807.5px;top:312.85px;font-size:8.5px;color:#0d2038;transform:scaleX(0.907);">22.9</div>
<div class="t s" style="left:824.5px;top:314.55px;font-size:6.5px;color:#0d2038;">m</div>
<div class="t s" style="left:855px;top:312.85px;font-size:8.5px;color:#0d2038;transform:scaleX(0.907);">26.9</div>
<div class="t s" style="left:872px;top:314.55px;font-size:6.5px;color:#0d2038;">m</div>
<div class="t k m" style="left:380px;top:347.58px;font-size:8.04px;color:#d2bd63;letter-spacing:1.25px;">二楼矸石输送皮带</div>
<div class="t k m" style="left:457.5px;top:344.35px;font-size:6.3px;color:#36b14a;letter-spacing:0.71px;">远程</div>
<div class="t k m" style="left:457.5px;top:354.95px;font-size:6.3px;color:#36b14a;letter-spacing:0.71px;">正常</div>
<div class="t s" style="left:383.7px;top:356.2px;font-size:9.8px;color:#4cacae;transform:scaleX(0.766);">401.5</div>
<div class="t s" style="left:406.8px;top:358px;font-size:6px;color:#c2bccc;">V</div>
<div class="t s" style="left:419.4px;top:356.2px;font-size:9.8px;color:#4cacae;transform:scaleX(0.697);">7.1</div>
<div class="t s" style="left:436.4px;top:358.4px;font-size:6px;color:#c2bccc;">A</div>
<div class="t s" style="left:386.2px;top:367px;font-size:9.8px;color:#4cacae;transform:scaleX(0.750);">26.3</div>
<div class="t s" style="left:405.6px;top:368.4px;font-size:6px;color:#c2bccc;">℃</div>
<div class="t s" style="left:419.9px;top:367px;font-size:9.8px;color:#4cacae;transform:scaleX(0.661);">1.2</div>
<div class="t s" style="left:433.2px;top:369.35px;font-size:6.5px;color:#c2bccc;transform:scaleX(0.935);">m/s</div>
<div class="t k m" style="left:501px;top:374.09px;font-size:8.22px;color:#d2bd63;letter-spacing:1.26px;">一楼矸石输送皮带</div>
<div class="t s" style="left:499.7px;top:382px;font-size:9.8px;color:#4cacae;transform:scaleX(0.799);">401.2</div>
<div class="t s" style="left:523.6px;top:383.8px;font-size:6px;color:#c2bccc;">V</div>
<div class="t s" style="left:533.6px;top:382px;font-size:9.8px;color:#4cacae;transform:scaleX(0.755);">38.5</div>
<div class="t s" style="left:553.7px;top:384.2px;font-size:6px;color:#c2bccc;">A</div>
<div class="t k m" style="left:563.8px;top:384.33px;font-size:6.54px;color:#36b14a;letter-spacing:0.74px;">远程</div>
<div class="t s" style="left:503px;top:394.3px;font-size:9.8px;color:#4cacae;transform:scaleX(0.750);">25.8</div>
<div class="t s" style="left:522.3px;top:395.7px;font-size:6px;color:#c2bccc;">℃</div>
<div class="t s" style="left:536.9px;top:394.3px;font-size:9.8px;color:#4cacae;transform:scaleX(0.683);">1.8</div>
<div class="t s" style="left:549.4px;top:396.65px;font-size:6.5px;color:#c2bccc;transform:scaleX(0.963);">m/s</div>
<div class="t k m" style="left:563.8px;top:396.63px;font-size:6.54px;color:#36b14a;letter-spacing:0.74px;">正常</div>
<div class="t k" style="left:606.2px;top:396.3px;font-size:5.6px;color:#b9c6dc;letter-spacing:1px;">料位计</div>
<div class="t s" style="left:606.2px;top:403.5px;font-size:10.4px;color:#f0dc3c;transform:scaleX(0.879);">5.2</div>
<div class="t s" style="left:622px;top:406.3px;font-size:7px;color:#16284a;">m</div>
<div class="t k m" style="left:503px;top:448.63px;font-size:6.55px;color:#c9b565;letter-spacing:1.02px;">一楼块煤输送皮带</div>
<div class="t s" style="left:494.7px;top:459.3px;font-size:8px;color:#4cacae;transform:scaleX(0.899);">0.0</div>
<div class="t s" style="left:514px;top:460.2px;font-size:6px;color:#c2bccc;">V</div>
<div class="t s" style="left:526.6px;top:459.3px;font-size:8px;color:#4cacae;transform:scaleX(0.854);">0.0</div>
<div class="t s" style="left:543.7px;top:460.6px;font-size:6px;color:#c2bccc;">A</div>
<div class="t k m" style="left:554.5px;top:460.81px;font-size:6.39px;color:#cc2c3c;letter-spacing:0.73px;">就地</div>
<div class="t s" style="left:492.9px;top:469.9px;font-size:9.8px;color:#4cacae;transform:scaleX(0.781);">23.2</div>
<div class="t s" style="left:512.8px;top:471.3px;font-size:6px;color:#c2bccc;">℃</div>
<div class="t s" style="left:526.6px;top:469.9px;font-size:9.8px;color:#4cacae;transform:scaleX(0.734);">0.0</div>
<div class="t s" style="left:540px;top:472.25px;font-size:6.5px;color:#c2bccc;transform:scaleX(0.925);">m/s</div>
<div class="t k m" style="left:554.5px;top:472.42px;font-size:6.16px;color:#36b14a;letter-spacing:0.69px;">正常</div>
<div class="t s b" style="left:48.6px;top:325.2px;font-size:7.6px;color:#e4d43a;transform:scaleX(0.968);">控制方式</div>
<div class="t s m" style="left:32.9px;top:349.2px;font-size:7.6px;color:#62c22e;transform:scaleX(0.928);">单机</div>
<div class="t s m" style="left:75px;top:349.2px;font-size:7.6px;color:#f2f2f6;transform:scaleX(0.968);">联控</div>
<div class="t k m" style="left:42.9px;top:442.1px;font-size:8px;color:#c2b072;letter-spacing:1.97px;">联锁控制</div>
<div class="t k m" style="left:147.6px;top:330px;font-size:8.4px;color:#43b2ba;letter-spacing:2.17px;">启动流程</div>
<div class="t k m" style="left:240.7px;top:330px;font-size:8.4px;color:#43b2ba;letter-spacing:2.2px;">停止流程</div>
<div class="t k" style="left:143.95px;top:352.85px;font-size:6.5px;color:#a9a39b;letter-spacing:1.02px;">原煤皮带启动</div>
<div class="t k" style="left:136.6px;top:373.85px;font-size:6.5px;color:#a9a39b;letter-spacing:0.97px;">一楼出矸皮带启动</div>
<div class="t k" style="left:136.6px;top:392.15px;font-size:6.5px;color:#a9a39b;letter-spacing:0.97px;">二楼出矸皮带启动</div>
<div class="t k" style="left:147.62px;top:412.55px;font-size:6.5px;color:#a9a39b;letter-spacing:1.06px;">破碎机启动</div>
<div class="t k" style="left:136.6px;top:432.55px;font-size:6.5px;color:#a9a39b;letter-spacing:0.97px;">二楼输送皮带启动</div>
<div class="t k" style="left:143.95px;top:452.65px;font-size:6.5px;color:#a9a39b;letter-spacing:1.02px;">手选皮带启动</div>
<div class="t k" style="left:147.62px;top:472.25px;font-size:6.5px;color:#a9a39b;letter-spacing:1.06px;">振动筛启动</div>
<div class="t k" style="left:136.6px;top:492.15px;font-size:6.5px;color:#a9a39b;letter-spacing:0.97px;">地面一部皮带启动</div>
<div class="t k" style="left:230.6px;top:352.15px;font-size:6.5px;color:#a9a39b;letter-spacing:0.97px;">地面一部皮带停止</div>
<div class="t k" style="left:241.62px;top:373.15px;font-size:6.5px;color:#a9a39b;letter-spacing:1.06px;">振动筛停止</div>
<div class="t k" style="left:237.95px;top:391.65px;font-size:6.5px;color:#a9a39b;letter-spacing:1.02px;">手选皮带停止</div>
<div class="t k" style="left:230.6px;top:411.75px;font-size:6.5px;color:#a9a39b;letter-spacing:0.97px;">二楼输送皮带停止</div>
<div class="t k" style="left:241.62px;top:431.35px;font-size:6.5px;color:#a9a39b;letter-spacing:1.06px;">破碎机停止</div>
<div class="t k" style="left:230.6px;top:451.65px;font-size:6.5px;color:#a9a39b;letter-spacing:0.97px;">二楼出矸皮带停止</div>
<div class="t k" style="left:230.6px;top:471.55px;font-size:6.5px;color:#a9a39b;letter-spacing:0.97px;">一楼出矸皮带停止</div>
<div class="t k" style="left:237.95px;top:491.35px;font-size:6.5px;color:#a9a39b;letter-spacing:1.02px;">原煤皮带停止</div>
<div class="t s b" style="left:778.8px;top:363.3px;font-size:7px;color:#e6d43a;transform:scaleX(0.975);">煤仓煤位(m)</div>
<div class="t s b" style="left:760.7px;top:366px;font-size:8px;color:#f4f4f6;transform:scaleX(0.909);">30</div>
<div class="t s b" style="left:760.7px;top:398px;font-size:8px;color:#f4f4f6;transform:scaleX(0.909);">15</div>
<div class="t s b" style="left:760.7px;top:430px;font-size:8px;color:#f4f4f6;">0</div>
<div class="t s" style="left:820.9px;top:391.9px;font-size:7.6px;color:#c6c23e;transform:scaleX(0.974);">22.9</div>
<div class="t s" style="left:871.7px;top:391.9px;font-size:7.6px;color:#c6c23e;transform:scaleX(0.967);">26.9</div>
<div class="t s b" style="left:802.5px;top:441.2px;font-size:7.2px;color:#f4f4f6;transform:scaleX(0.947);">1#煤仓</div>
<div class="t s b" style="left:855.4px;top:441.2px;font-size:7.2px;color:#f4f4f6;transform:scaleX(0.898);">2#煤仓</div>
<div class="btn c s" style="left:126px;top:262.3px;width:22.2px;height:8.5px;line-height:9.9px;font-size:7px;">启动</div>
<div class="btn o s" style="left:151.7px;top:262.3px;width:20.8px;height:8.5px;line-height:9.9px;font-size:7px;">停止</div>
<div class="btn c s" style="left:17px;top:247.3px;width:21.7px;height:8.5px;line-height:9.9px;font-size:7px;">启动</div>
<div class="btn o s" style="left:42.2px;top:247.3px;width:20.6px;height:8.5px;line-height:9.9px;font-size:7px;">停止</div>
<div class="btn c s" style="left:11.3px;top:279.1px;width:17.3px;height:7.6px;line-height:9px;font-size:6.5px;">打开</div>
<div class="btn o s" style="left:31.1px;top:279.1px;width:17.1px;height:7.6px;line-height:9px;font-size:6.5px;">停止</div>
<div class="btn c s" style="left:51px;top:279.1px;width:17.8px;height:7.6px;line-height:9px;font-size:6.5px;">关闭</div>
<div class="btn w s" style="left:218.3px;top:221.7px;width:19.8px;height:8.5px;line-height:9.9px;font-size:7px;">预警</div>
<div class="btn c s" style="left:241.6px;top:221.7px;width:21.4px;height:8.5px;line-height:9.9px;font-size:7px;">启动</div>
<div class="btn o s" style="left:266.2px;top:221.7px;width:21.8px;height:8.5px;line-height:9.9px;font-size:7px;">停止</div>
<div class="btn w s" style="left:304.8px;top:197px;width:21.3px;height:8.7px;line-height:10.1px;font-size:7px;">预警</div>
<div class="btn c s" style="left:329.6px;top:197px;width:22.1px;height:8.7px;line-height:10.1px;font-size:7px;">启动</div>
<div class="btn o s" style="left:354.9px;top:197px;width:20.8px;height:8.7px;line-height:10.1px;font-size:7px;">停止</div>
<div class="btn w s" style="left:390px;top:234.7px;width:22.1px;height:9.3px;line-height:10.7px;font-size:7px;">预警</div>
<div class="btn c s" style="left:415.6px;top:234.7px;width:21.4px;height:9.3px;line-height:10.7px;font-size:7px;">启动</div>
<div class="btn o s" style="left:440.2px;top:234.7px;width:22.4px;height:9.3px;line-height:10.7px;font-size:7px;">停止</div>
<div class="btn w s" style="left:492.7px;top:255.3px;width:20.6px;height:8.5px;line-height:9.9px;font-size:7px;">预警</div>
<div class="btn c s" style="left:516.8px;top:255.3px;width:21.9px;height:8.5px;line-height:9.9px;font-size:7px;">启动</div>
<div class="btn o s" style="left:541.9px;top:255.3px;width:21.1px;height:8.5px;line-height:9.9px;font-size:7px;">停止</div>
<div class="btn w s" style="left:567px;top:286.6px;width:20.9px;height:9.4px;line-height:10.8px;font-size:7px;">预警</div>
<div class="btn c s" style="left:591.4px;top:286.6px;width:21.4px;height:9.4px;line-height:10.8px;font-size:7px;">启动</div>
<div class="btn o s" style="left:616px;top:286.6px;width:21.1px;height:9.4px;line-height:10.8px;font-size:7px;">停止</div>
<div class="btn w s" style="left:700.5px;top:312.3px;width:22.1px;height:8.7px;line-height:10.1px;font-size:7px;">预警</div>
<div class="btn c s" style="left:727px;top:312.3px;width:21.3px;height:8.7px;line-height:10.1px;font-size:7px;">启动</div>
<div class="btn o s" style="left:752.7px;top:312.3px;width:22.2px;height:8.7px;line-height:10.1px;font-size:7px;">停止</div>
<div class="btn c s" style="left:782.7px;top:195px;width:22.4px;height:8.8px;line-height:10.2px;font-size:7px;">抬起</div>
<div class="btn o s" style="left:807.8px;top:195px;width:22.4px;height:8.8px;line-height:10.2px;font-size:7px;">落下</div>
<div class="btn w s" style="left:383px;top:377.8px;width:21.3px;height:8.2px;line-height:9.6px;font-size:7px;">预警</div>
<div class="btn c s" style="left:408px;top:377.8px;width:22px;height:8.2px;line-height:9.6px;font-size:7px;">启动</div>
<div class="btn o s" style="left:434px;top:377.8px;width:21.5px;height:8.2px;line-height:9.6px;font-size:7px;">停止</div>
<div class="btn w s" style="left:501.7px;top:405.4px;width:22.6px;height:9px;line-height:10.4px;font-size:7px;">预警</div>
<div class="btn c s" style="left:527.8px;top:405.4px;width:21.5px;height:9px;line-height:10.4px;font-size:7px;">启动</div>
<div class="btn o s" style="left:552.5px;top:405.4px;width:21.3px;height:9px;line-height:10.4px;font-size:7px;">停止</div>
<div class="btn c s n" style="left:15.7px;top:380.1px;width:29.3px;height:10.6px;line-height:12px;font-size:7.4px;">单机</div>
<div class="btn o s n" style="left:77px;top:380.1px;width:29.2px;height:10.6px;line-height:12px;font-size:7.4px;">联控</div>
<div class="btn o s n" style="left:15.3px;top:411.2px;width:37.5px;height:10.7px;line-height:12.1px;font-size:7.4px;">系统急停</div>
<div class="btn c s n" style="left:68.1px;top:411.2px;width:37.8px;height:10.7px;line-height:12.1px;font-size:7.4px;">故障复位</div>
<div class="btn c s n" style="left:15.8px;top:477.2px;width:37.9px;height:10.6px;line-height:12px;font-size:7.4px;">一键启动</div>
<div class="btn o s n" style="left:68.1px;top:477.2px;width:37.8px;height:10.6px;line-height:12px;font-size:7.4px;">一键停止</div>
<div class="clip" style="left:93.6px;top:83.2px;width:16px;height:2.6px;"><div class="t k m" style="left:0;top:-4.6px;font-size:7px;color:#d92c3e;letter-spacing:0.6px;">就地</div></div>
<div class="clip" style="left:115.4px;top:82.6px;width:14px;height:3.2px;"><div class="t k m" style="left:0;top:-4px;font-size:7px;color:#36b14a;letter-spacing:0.4px;">正常</div></div>
<div id="frame-in"></div><div id="frame-t"></div><div id="frame-b"></div><div id="frame-l"></div><div id="frame-r"></div>
</div>
</body>
</html>
